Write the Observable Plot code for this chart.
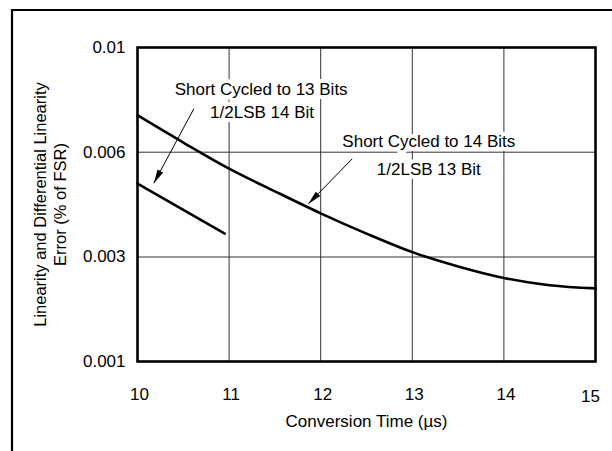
<!DOCTYPE html>
<html>
<head>
<meta charset="utf-8">
<script src="https://cdn.jsdelivr.net/npm/d3@7"></script>
<script src="https://cdn.jsdelivr.net/npm/@observablehq/plot@0.6"></script>
<style>
  html, body { margin: 0; padding: 0; background: #fff; overflow: hidden; width: 612px; height: 451px; scrollbar-width: none; }
  ::-webkit-scrollbar { display: none; width: 0; height: 0; }
  #wrap { width: 612px; height: 451px; overflow: hidden; }
  svg { display: block; }
</style>
</head>
<body>
<div id="wrap"></div>
<script>
// Data
const yTicks = [0.001, 0.003, 0.006, 0.01];
const xTicks = [10, 11, 12, 13, 14, 15];
const xTicksMain = [10, 11, 12, 13, 14];
const xTickLast = [15];

const curve14X = [10, 10.5, 11, 11.5, 12, 12.5, 13, 13.5, 14, 14.5, 15];
const curve14Y = [0.00741, 0.00637, 0.00553, 0.00488, 0.00425, 0.00367, 0.00314, 0.00282, 0.00260, 0.00246, 0.00240];

const curve13X = [10, 10.953];
const curve13Y = [0.00510, 0.00367];

const labelText = ["Short Cycled to 13 Bits", "1/2LSB 14 Bit", "Short Cycled to 14 Bits", "1/2LSB 13 Bit"];
const labelX = [11.35, 11.36, 13.18, 13.18];
const labelY = [0.00838, 0.00753, 0.00639, 0.00551];

const arrowX1 = [10.615, 12.344];
const arrowY1 = [0.00766, 0.00581];
const arrowX2 = [10.178, 11.864];
const arrowY2 = [0.00511, 0.00452];

const c14 = curve14X.map((x, i) => ({x, y: curve14Y[i]}));
const c13 = curve13X.map((x, i) => ({x, y: curve13Y[i]}));
const labels = labelText.map((t, i) => ({t, x: labelX[i], y: labelY[i]}));
const arrows = arrowX1.map((x1, i) => ({x1, y1: arrowY1[i], x2: arrowX2[i], y2: arrowY2[i]}));

function filledArrow(color) {
  const m = d3.create("svg:marker")
    .attr("viewBox", "-14 -4 15 8")
    .attr("markerWidth", 15).attr("markerHeight", 8)
    .attr("markerUnits", "userSpaceOnUse")
    .attr("refX", 0).attr("refY", 0)
    .attr("orient", "auto")
    .attr("fill", color).attr("stroke", "none");
  m.append("path").attr("d", "M-14,-3.2L0,0L-14,3.2Z");
  return m.node();
}

const W = 612, H = 451;
const mL = 137, mR = 17, mT = 47, mB = 90;

const chart = Plot.plot({
  width: W, height: H,
  marginLeft: mL, marginRight: mR, marginTop: mT, marginBottom: mB,
  style: {fontFamily: "'Liberation Sans', Arial, sans-serif", fontSize: "17px", color: "#000", background: "#fff"},
  x: {domain: [10, 15], range: [mL, W - mR]},
  y: {type: "linear", domain: yTicks, range: [H - mB, 256.5, 151.7, mT]},
  marks: [
    Plot.gridX(xTicks, {stroke: "#333", strokeOpacity: 1, strokeWidth: 1}),
    Plot.gridY(yTicks, {stroke: "#333", strokeOpacity: 1, strokeWidth: 1}),
    Plot.axisX(xTicksMain, {tickSize: 0, tickPadding: 26, fontSize: 17, label: null, dx: 2}),
    Plot.axisX(xTickLast, {tickSize: 0, tickPadding: 28, fontSize: 17, label: null, dx: -5}),
    Plot.axisY(yTicks, {tickSize: 0, tickPadding: 12, fontSize: 17, label: null, tickFormat: d => String(d)}),
    Plot.text(["Conversion Time (µs)"], {frameAnchor: "bottom", dy: 60, lineAnchor: "middle", fontSize: 17}),
    Plot.text(["Linearity and Differential Linearity\nError (% of FSR)"], {frameAnchor: "left", textAnchor: "middle", lineAnchor: "middle", dx: -88, rotate: -90, fontSize: 16.5, lineHeight: 1.2}),
    Plot.text(labels, {x: "x", y: "y", text: "t", fontSize: 17, fill: "#000", stroke: "white", strokeWidth: 8, paintOrder: "stroke"}),
    Plot.line(c14, {x: "x", y: "y", curve: "monotone-x", strokeWidth: 2.6, stroke: "#000"}),
    Plot.line(c13, {x: "x", y: "y", strokeWidth: 2.6, stroke: "#000"}),
    Plot.link(arrows, {x1: "x1", y1: "y1", x2: "x2", y2: "y2", stroke: "#000", strokeWidth: 1, markerEnd: filledArrow}),
    Plot.frame({stroke: "#000", strokeWidth: 2.6})
  ]
});
// page border (decoration): top and left edges of the figure box
d3.select(chart).append("path")
  .attr("d", `M12,${H + 2}V10H${W + 2}`)
  .attr("fill", "none").attr("stroke", "#000").attr("stroke-width", 2.2);
document.getElementById("wrap").appendChild(chart);
</script>
</body>
</html>
